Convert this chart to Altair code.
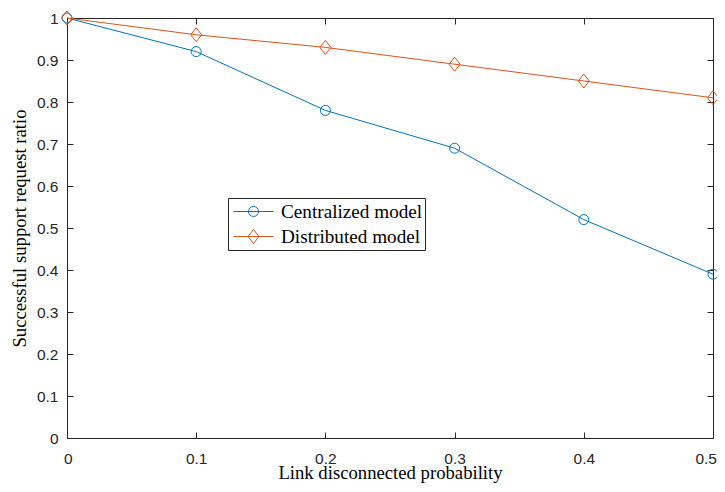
import altair as alt
import pandas as pd

# ---- data ----
x_vals = [0, 0.1, 0.2, 0.3, 0.4, 0.5]
centralized = [1.0, 0.92, 0.78, 0.69, 0.52, 0.39]
distributed = [1.0, 0.96, 0.93, 0.89, 0.85, 0.81]
series_names = ["Centralized model", "Distributed model"]
x_ticks = [0, 0.1, 0.2, 0.3, 0.4, 0.5]
y_ticks = [0, 0.1, 0.2, 0.3, 0.4, 0.5, 0.6, 0.7, 0.8, 0.9, 1.0]

rows = []
for xv, c, d in zip(x_vals, centralized, distributed):
    rows.append({"x": xv, "y": c, "series": series_names[0]})
    rows.append({"x": xv, "y": d, "series": series_names[1]})
df = pd.DataFrame(rows)

circle_path = "M0.25,0A0.25,0.25,0,1,1,-0.25,0A0.25,0.25,0,1,1,0.25,0Z"
diamond_path = "M0,-0.35L0.275,0L0,0.35L-0.275,0Z"

color_scale = alt.Scale(domain=series_names, range=["#0072BD", "#D95319"])
shape_scale = alt.Scale(domain=series_names, range=[circle_path, diamond_path])
x_scale = alt.Scale(domain=[0, 0.5], nice=False, zero=False)
y_scale = alt.Scale(domain=[0, 1], nice=False)

legend_common = dict(
    orient="none", legendX=161, legendY=180, title=None,
    symbolSize=1600, clipHeight=23, padding=2, symbolOffset=3,
    labelOffset=7, labelFont="Liberation Serif", labelFontSize=19.2,
    labelColor="black", symbolStrokeWidth=1,
    labelExpr="datum.label + '\u00a0\u00a0'",
)

lines = alt.Chart(df).mark_line(strokeWidth=1).encode(
    x=alt.X("x:Q", scale=x_scale,
            axis=alt.Axis(values=x_ticks, format="~g", orient="bottom", offset=-6,
                          tickSize=6, domain=False, grid=False, labelPadding=13,
                          labelFlush=True, labelFlushOffset=3.5,
                          title="Link disconnected probability", titlePadding=-3)),
    y=alt.Y("y:Q", scale=y_scale,
            axis=alt.Axis(values=y_ticks, format="~g", orient="left", offset=-6,
                          tickSize=6, domain=False, grid=False, labelPadding=9,
                          labelFlush=False,
                          title="Successful support request ratio", titlePadding=7)),
    color=alt.Color("series:N", scale=color_scale,
                    legend=alt.Legend(symbolType="stroke", labelOpacity=0, **legend_common)),
)

points = alt.Chart(df).mark_point(filled=False, size=1600, strokeWidth=1, opacity=1).encode(
    x=alt.X("x:Q", scale=x_scale,
            axis=alt.Axis(values=x_ticks, orient="top", offset=-6, tickSize=6,
                          domain=False, grid=False, labels=False, title=None)),
    y=alt.Y("y:Q", scale=y_scale,
            axis=alt.Axis(values=y_ticks, orient="right", offset=-6, tickSize=6,
                          domain=False, grid=False, labels=False, title=None)),
    color=alt.Color("series:N", scale=color_scale,
                    legend=alt.Legend(strokeColor="#262626", **legend_common)),
    shape=alt.Shape("series:N", scale=shape_scale,
                    legend=alt.Legend(strokeColor="#262626", **legend_common)),
)

chart = alt.layer(lines, points).resolve_axis(
    x="independent", y="independent"
).resolve_legend(
    color="independent", shape="independent"
).properties(
    width=646, height=420,
    autosize=alt.AutoSizeParams(type="none"),
    padding={"left": 59, "top": 10, "right": 4, "bottom": 46},
    background="white",
).configure_view(
    stroke="#262626", strokeWidth=1
).configure_axis(
    labelFont="Liberation Sans", labelFontSize=15.5, labelColor="#262626",
    titleFont="Liberation Serif", titleFontSize=18.7, titleFontWeight="normal",
    titleColor="black", tickColor="#262626", tickWidth=1,
).configure_legend(
    strokeWidth=1
)

chart.save("out.html", embed_options={"renderer": "svg", "actions": False})
